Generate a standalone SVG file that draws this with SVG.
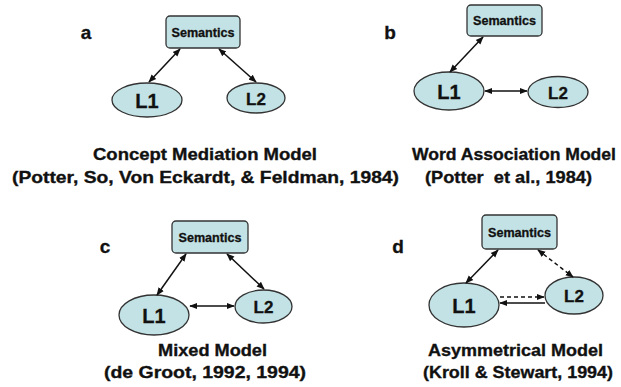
<svg xmlns="http://www.w3.org/2000/svg" width="621" height="387" viewBox="0 0 621 387">
<defs>
<style>
.bg{fill:#ffffff}
.box{fill:#c3e2e5;stroke:#333333;stroke-width:1.3}
.ell{fill:#c3e2e5;stroke:#333333;stroke-width:1.3}
.sem{font-family:"Liberation Sans",Arial,sans-serif;font-weight:bold;font-size:12.5px;fill:#111;stroke:#111;stroke-width:0.3;text-anchor:middle}
.lbl{font-family:"Liberation Sans",Arial,sans-serif;font-weight:bold;font-size:20px;fill:#111;stroke:#111;stroke-width:0.3;text-anchor:middle}
.lbl2{font-family:"Liberation Sans",Arial,sans-serif;font-weight:bold;font-size:17px;fill:#111;stroke:#111;stroke-width:0.3;text-anchor:middle}
.cap{font-family:"Liberation Sans",Arial,sans-serif;font-weight:bold;font-size:17px;fill:#111;stroke:#111;stroke-width:0.35}
.let{font-family:"Liberation Sans",Arial,sans-serif;font-weight:bold;font-size:19px;fill:#111;stroke:#111;stroke-width:0.3;text-anchor:middle}
.con{stroke:#111;stroke-width:1.5;fill:none}
.dash{stroke-dasharray:4 3}
</style>
<marker id="ah" viewBox="0 0 10 10" refX="9" refY="5" markerWidth="8" markerHeight="8" orient="auto-start-reverse" markerUnits="userSpaceOnUse">
<path d="M0,1 L10,5 L0,9 z" fill="#111"/>
</marker>
</defs>
<rect class="bg" x="0" y="0" width="621" height="387"/>

<g id="panel-a">
<text class="let" x="86" y="39">a</text>
<g id="a-semantics"><rect class="box" x="166" y="16" width="74" height="32" rx="4"/><text class="sem" x="203" y="36.5" textLength="63" lengthAdjust="spacingAndGlyphs">Semantics</text></g>
<g id="a-L1"><ellipse class="ell" cx="147" cy="100" rx="35" ry="17"/><text class="lbl" x="147" y="107.5">L1</text></g>
<g id="a-L2"><ellipse class="ell" cx="256" cy="98" rx="29" ry="15"/><text class="lbl2" x="256" y="104.5">L2</text></g>
<text class="cap" x="93" y="160" textLength="224" lengthAdjust="spacingAndGlyphs">Concept Mediation Model</text>
<text class="cap" x="12" y="183" textLength="387" lengthAdjust="spacingAndGlyphs">(Potter, So, Von Eckardt, &amp; Feldman, 1984)</text>
</g>

<g id="panel-b">
<text class="let" x="390" y="39">b</text>
<g id="b-semantics"><rect class="box" x="467" y="5" width="75" height="31" rx="4"/><text class="sem" x="504.5" y="25" textLength="63" lengthAdjust="spacingAndGlyphs">Semantics</text></g>
<g id="b-L1"><ellipse class="ell" cx="449" cy="91" rx="35" ry="19"/><text class="lbl" x="449" y="98.5">L1</text></g>
<g id="b-L2"><ellipse class="ell" cx="558" cy="92" rx="30" ry="15.5"/><text class="lbl2" x="558" y="98.5">L2</text></g>
<text class="cap" x="412" y="160" textLength="204" lengthAdjust="spacingAndGlyphs">Word Association Model</text>
<text class="cap" x="425" y="183" textLength="167" lengthAdjust="spacingAndGlyphs" xml:space="preserve">(Potter  et al., 1984)</text>
</g>

<g id="panel-c">
<text class="let" x="105" y="253">c</text>
<g id="c-semantics"><rect class="box" x="172" y="221" width="76" height="32" rx="4"/><text class="sem" x="210" y="241.5" textLength="63" lengthAdjust="spacingAndGlyphs">Semantics</text></g>
<g id="c-L1"><ellipse class="ell" cx="154" cy="315" rx="35" ry="20"/><text class="lbl" x="154" y="322.5">L1</text></g>
<g id="c-L2"><ellipse class="ell" cx="263.5" cy="306.5" rx="28.5" ry="16.5"/><text class="lbl2" x="263.5" y="313">L2</text></g>
<text class="cap" x="158" y="356" textLength="109" lengthAdjust="spacingAndGlyphs">Mixed Model</text>
<text class="cap" x="104" y="378" textLength="202" lengthAdjust="spacingAndGlyphs">(de Groot, 1992, 1994)</text>
</g>

<g id="panel-d">
<text class="let" x="398" y="253">d</text>
<g id="d-semantics"><rect class="box" x="482" y="215" width="75" height="34" rx="4"/><text class="sem" x="519.5" y="236.5" textLength="63" lengthAdjust="spacingAndGlyphs">Semantics</text></g>
<g id="d-L1"><ellipse class="ell" cx="464" cy="305" rx="35" ry="22"/><text class="lbl" x="464" y="312.5">L1</text></g>
<g id="d-L2"><ellipse class="ell" cx="574" cy="295.5" rx="29" ry="18.5"/><text class="lbl2" x="574" y="302">L2</text></g>
<text class="cap" x="428" y="356" textLength="175" lengthAdjust="spacingAndGlyphs">Asymmetrical Model</text>
<text class="cap" x="423" y="378" textLength="190" lengthAdjust="spacingAndGlyphs">(Kroll &amp; Stewart, 1994)</text>
</g>

<g id="connectors">
<line class="con" x1="180" y1="49" x2="149" y2="82" marker-start="url(#ah)" marker-end="url(#ah)"/>
<line class="con" x1="219" y1="49" x2="256" y2="82" marker-start="url(#ah)" marker-end="url(#ah)"/>
<line class="con" x1="483" y1="37" x2="450" y2="72" marker-start="url(#ah)" marker-end="url(#ah)"/>
<line class="con" x1="485" y1="91" x2="527" y2="91" marker-start="url(#ah)" marker-end="url(#ah)"/>
<line class="con" x1="186" y1="254" x2="157" y2="295" marker-start="url(#ah)" marker-end="url(#ah)"/>
<line class="con" x1="227" y1="254" x2="264" y2="289" marker-start="url(#ah)" marker-end="url(#ah)"/>
<line class="con" x1="190" y1="306" x2="234" y2="306" marker-start="url(#ah)" marker-end="url(#ah)"/>
<line class="con" x1="498" y1="250" x2="466" y2="283" marker-start="url(#ah)" marker-end="url(#ah)"/>
<line class="con dash" x1="538" y1="250" x2="573" y2="277" marker-start="url(#ah)" marker-end="url(#ah)"/>
<line class="con dash" x1="500" y1="297" x2="544" y2="297" marker-end="url(#ah)"/>
<line class="con" x1="545" y1="303" x2="500" y2="303" marker-end="url(#ah)"/>
</g>
</svg>
